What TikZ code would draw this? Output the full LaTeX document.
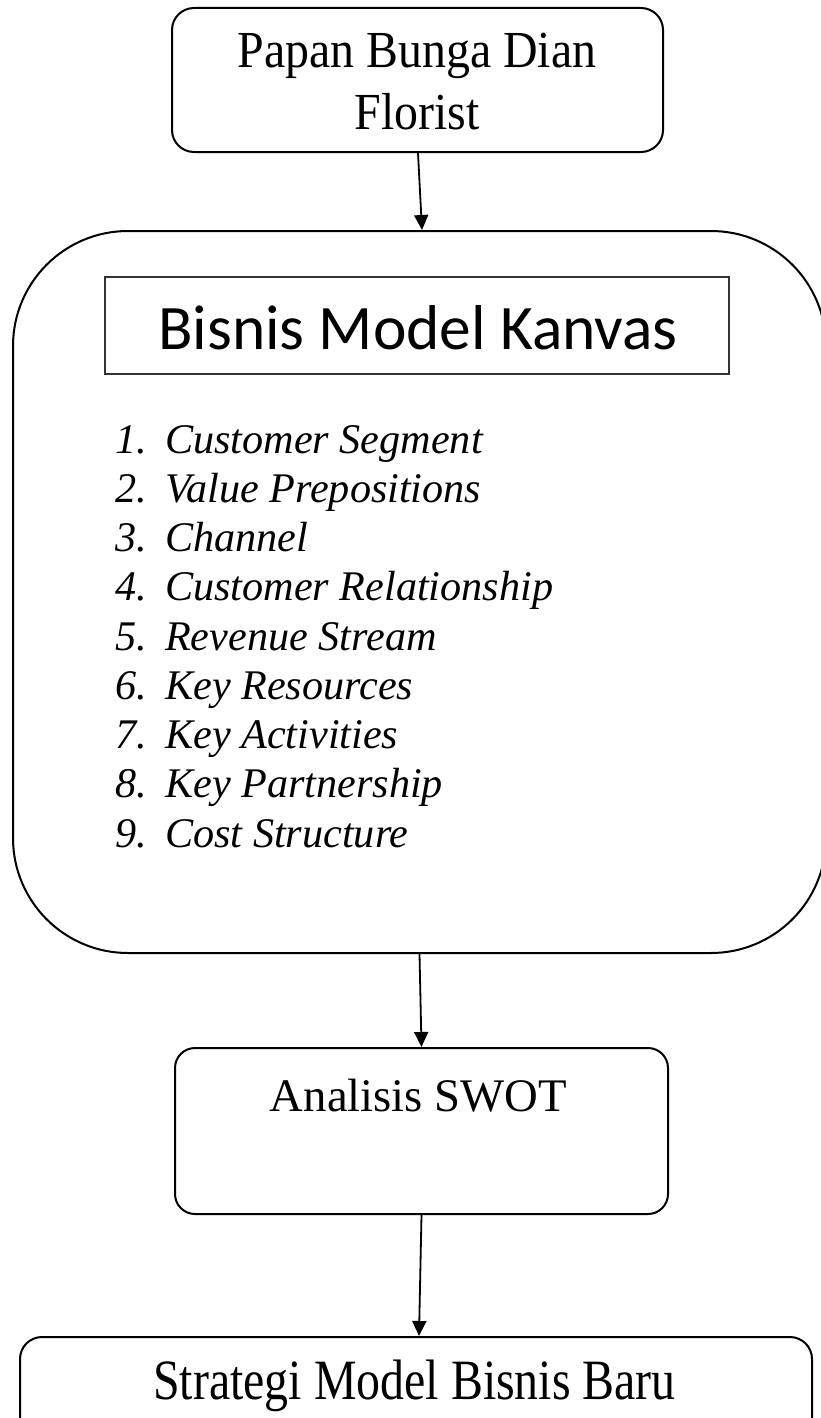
\documentclass[tikz,border=0pt]{standalone}
\usepackage{fontspec}
\setmainfont{Liberation Serif}
\newfontfamily\kanvasfont{Carlito}
\newfontfamily\serifA[FakeStretch=0.92]{Liberation Serif}
\newfontfamily\serifB[FakeStretch=0.84]{Liberation Serif}
\usetikzlibrary{arrows.meta}

\tikzset{
  rbox/.style={draw=black, line width=2pt, rounded corners=22pt, inner sep=0pt},
  titlebox/.style={draw=black!80, line width=1.5pt, inner sep=0pt},
  label/.style={inner sep=0pt, anchor=base},
  connector/.style={draw=black, line width=1.8pt, -{Triangle[length=15pt,width=14pt]}}
}

\begin{document}
\begin{tikzpicture}[x=1pt,y=-1pt]
  \useasboundingbox (0,0) rectangle (821,1418);

  % boxes
  \node[rbox, minimum width=491pt, minimum height=144pt] (papan) at (417.5,80) {};
  \node[rbox, rounded corners=115pt, minimum width=813pt, minimum height=722pt] (bmc) at (419.5,592) {};
  \node[titlebox, minimum width=624pt, minimum height=97pt] (kanvas) at (417,325.5) {};
  \node[rbox, rounded corners=20pt, minimum width=493pt, minimum height=166pt] (swot) at (421.5,1131) {};
  \node[rbox, minimum width=792pt, minimum height=110pt] (strategi) at (416,1392) {};

  % texts
  \node[label] (papantxt) at (417,68)
    {\serifA\fontsize{52}{62}\selectfont\begin{tabular}[t]{@{}c@{}}Papan Bunga Dian\\ Florist\end{tabular}};
  \node[label] (kanvastxt) at (418,349) {\kanvasfont\fontsize{63.4}{75}\selectfont Bisnis Model Kanvas};
  \node[label, anchor=base west] (list) at (115,453)
    {\fontsize{42.2}{49.25}\selectfont\itshape
     \begin{tabular}[t]{@{}p{50pt}@{}l@{}}
     1. & Customer Segment\\
     2. & Value Prepositions\\
     3. & Channel\\
     4. & Customer Relationship\\
     5. & Revenue Stream\\
     6. & Key Resources\\
     7. & Key Activities\\
     8. & Key Partnership\\
     9. & Cost Structure
     \end{tabular}};
  \node[label] (swottxt) at (418.5,1111) {\fontsize{46.7}{56}\selectfont Analisis SWOT};
  \node[label] (strategitxt) at (414.5,1399) {\serifB\fontsize{57}{68}\selectfont Strategi Model Bisnis Baru};

  % connectors
  \draw[connector] ([xshift=0.5pt]papan.south) -- ([xshift=2.5pt]bmc.north);
  \draw[connector] (bmc.south) -- (swot.north);
  \draw[connector] (swot.south) -- ([xshift=3pt]strategi.north);
\end{tikzpicture}
\end{document}
